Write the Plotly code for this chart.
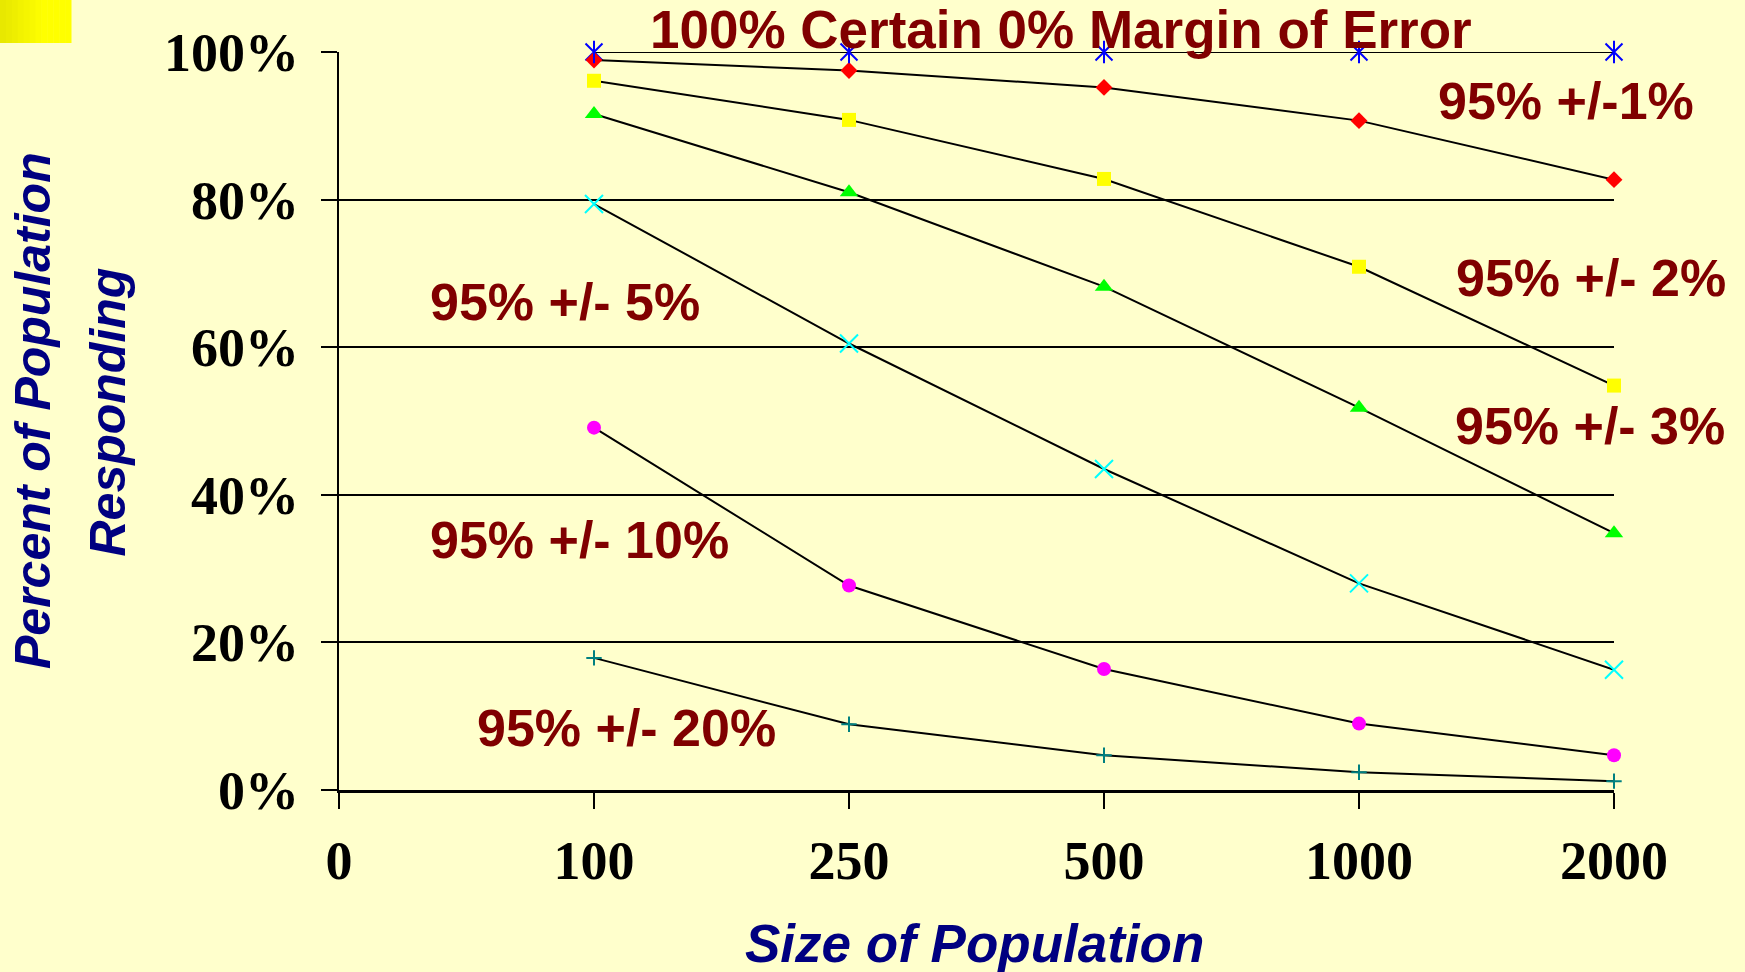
import plotly.graph_objects as go

# ---------------- data ----------------
categories = ["0", "100", "250", "500", "1000", "2000"]
pop_sizes = ["100", "250", "500", "1000", "2000"]

certain_100 = [100, 100, 100, 100, 100]
err_1 = [98.9, 97.5, 95.2, 90.7, 82.7]
err_2 = [96.1, 90.8, 82.8, 70.9, 54.8]
err_3 = [91.6, 81.0, 68.2, 51.8, 34.8]
err_5 = [79.4, 60.5, 43.5, 28.0, 16.3]
err_10 = [49.1, 27.7, 16.4, 9.0, 4.7]
err_20 = [17.9, 8.9, 4.7, 2.4, 1.2]

y_ticks = [0, 20, 40, 60, 80, 100]
y_tick_labels = ["0%", "20%", "40%", "60%", "80%", "100%"]

label_texts = ["100% Certain 0% Margin of Error", "95% +/-1%", "95% +/- 2%",
               "95% +/- 3%", "95% +/- 5%", "95% +/- 10%", "95% +/- 20%"]

# ---------------- layout helpers ----------------
W, H = 1745, 972
ML, MR, MT, MB = 339, 131, 52, 182
PW, PH = W - ML - MR, H - MT - MB

def px_to_paper_x(px):
    return (px - ML) / PW

def px_to_paper_y(py):
    return (H - MB - py) / PH

xpos = [categories.index(c) for c in pop_sizes]

fig = go.Figure()

series = [
    (certain_100, "x-thin-open", 17, "#0000FF", "100% Certain"),
    (err_1, "diamond", 13, "#FF0000", "95% +/-1%"),
    (err_2, "square", 14, "#FFFF00", "95% +/-2%"),
    (err_3, "triangle-up", 16, "#00FF00", "95% +/-3%"),
    (err_5, "x-thin-open", 18, "#00FFFF", "95% +/-5%"),
    (err_10, "circle", 14, "#FF00FF", "95% +/-10%"),
    (err_20, "cross-thin-open", 11, "#008080", "95% +/-20%"),
]

for vals, sym, sz, col, name in series:
    fig.add_trace(go.Scatter(
        x=xpos, y=vals, mode="lines+markers", name=name,
        line=dict(color="black", width=2),
        marker=dict(symbol=sym, size=sz, color=col,
                    line=dict(color=col, width=2 if "open" in sym else 0)),
        cliponaxis=False, showlegend=False))

# vertical bar of the star markers of the 100% series
fig.add_trace(go.Scatter(
    x=xpos, y=certain_100, mode="markers", showlegend=False,
    marker=dict(symbol="line-ns-open", size=16, color="#0000FF",
                line=dict(color="#0000FF", width=2)),
    cliponaxis=False))

# ---------------- annotations ----------------
label_font = dict(family="Liberation Sans, Arial", size=52, color="#800000", weight="bold")
label_pos = [(649, 30), (1437, 101.5), (1455, 278), (1454, 426.5),
             (429, 301.5), (429, 540), (476, 727.5)]
label_sizes = [53, 52, 52, 52, 52, 52, 52]
annotations = []
for txt, (lx, ly), fs in zip(label_texts, label_pos, label_sizes):
    annotations.append(dict(
        text=txt, xref="paper", yref="paper",
        x=px_to_paper_x(lx), y=px_to_paper_y(ly),
        xanchor="left", yanchor="middle", showarrow=False,
        font=dict(label_font, size=fs), borderpad=0))

title_font = dict(family="Liberation Sans, Arial", size=53, color="#000080",
                  weight="bold", style="italic")
annotations.append(dict(
    text="Size of Population", xref="paper", yref="paper",
    x=px_to_paper_x(974), y=px_to_paper_y(943),
    xanchor="center", yanchor="middle", showarrow=False, font=title_font,
    borderpad=0))
ytitle_font = dict(title_font, size=50)
annotations.append(dict(
    text="Percent of Population", xref="paper", yref="paper",
    x=px_to_paper_x(33), y=px_to_paper_y(411),
    xanchor="center", yanchor="middle", showarrow=False,
    textangle=-90, font=ytitle_font))
annotations.append(dict(
    text="Responding", xref="paper", yref="paper",
    x=px_to_paper_x(107), y=px_to_paper_y(412.5),
    xanchor="center", yanchor="middle", showarrow=False,
    textangle=-90, font=ytitle_font))

# ---------------- yellow corner block (gradient strips) ----------------
shapes = []
n_strips = 12
x_start, x_end, y_top, y_bot = 0, 71, 0, 43
for i in range(n_strips):
    t = i / (n_strips - 1)
    r = int(232 + (255 - 232) * min(1, t * 1.6))
    g = r
    col = f"rgb({r},{g},0)"
    x0 = x_start + (x_end - x_start) * i / n_strips
    x1 = x_start + (x_end - x_start) * (i + 1) / n_strips + 0.5
    shapes.append(dict(type="rect", xref="paper", yref="paper",
                       x0=px_to_paper_x(x0), x1=px_to_paper_x(x1),
                       y0=px_to_paper_y(y_bot), y1=px_to_paper_y(y_top),
                       fillcolor=col, line=dict(width=0), layer="above"))

tick_font = dict(family="Liberation Serif, Times New Roman", size=54,
                 color="black", weight="bold")

fig.update_layout(
    width=W, height=H,
    margin=dict(l=ML, r=MR, t=MT, b=MB, pad=0),
    paper_bgcolor="#FFFFCC", plot_bgcolor="#FFFFCC",
    annotations=annotations, shapes=shapes,
    xaxis=dict(
        range=[0, len(categories) - 1], tickvals=list(range(len(categories))),
        ticktext=categories, showgrid=False, zeroline=False,
        showline=True, linecolor="black", linewidth=3,
        ticks="outside", ticklen=16, tickwidth=2, tickcolor="black",
        tickfont=tick_font, ticklabelstandoff=5,
    ),
    yaxis=dict(
        range=[0, 100], tickvals=y_ticks, ticktext=y_tick_labels,
        showgrid=True, gridcolor="black", gridwidth=2.2, zeroline=False,
        showline=True, linecolor="black", linewidth=2.2,
        ticks="outside", ticklen=16, tickwidth=2, tickcolor="black",
        tickfont=tick_font, ticklabelstandoff=11,
    ),
)

fig.write_html(
    "out.html",
    config={"displayModeBar": False},
    post_script="document.body.style.margin='0';document.body.style.overflow='hidden';"
                "document.documentElement.style.overflow='hidden';"
                "document.body.style.background='#FFFFCC';",
)
